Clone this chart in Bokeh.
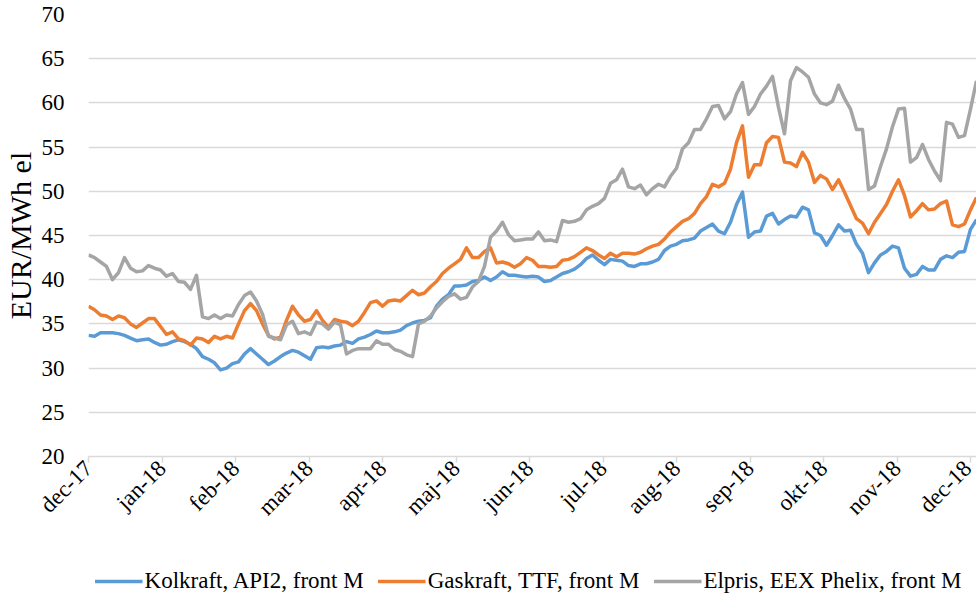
import numpy as np
from bokeh.plotting import figure
from bokeh.layouts import column
from bokeh.models import Range1d, FixedTicker, Legend, LegendItem, ColumnDataSource
from bokeh.embed import file_html
from bokeh.resources import INLINE

# month tick labels (dec-17 .. dec-18)
month_labels = ["dec-17", "jan-18", "feb-18", "mar-18", "apr-18", "maj-18", "jun-18",
                "jul-18", "aug-18", "sep-18", "okt-18", "nov-18", "dec-18"]
y_ticks = [20, 25, 30, 35, 40, 45, 50, 55, 60, 65, 70]
samples_per_year = 147  # series at ~2.5-day spacing

kolkraft = [
    33.7, 33.6, 34.0, 34.0, 34.0, 33.9, 33.7, 33.4, 33.1, 33.2, 33.3, 32.9, 32.6, 32.7, 33.0, 33.2,
    33.0, 32.7, 32.2, 31.3, 31.0, 30.6, 29.8, 30.0, 30.5, 30.7, 31.6, 32.2, 31.6, 31.0, 30.4, 30.8,
    31.3, 31.7, 32.0, 31.8, 31.4, 31.0, 32.3, 32.4, 32.3, 32.5, 32.6, 33.0, 32.8, 33.3, 33.5, 33.8,
    34.2, 34.0, 34.0, 34.1, 34.3, 34.8, 35.1, 35.3, 35.4, 35.7, 37.0, 37.8, 38.3, 39.3, 39.3, 39.4,
    39.8, 39.9, 40.3, 39.9, 40.3, 40.9, 40.5, 40.5, 40.4, 40.3, 40.4, 40.3, 39.8, 39.9, 40.3, 40.7,
    40.9, 41.2, 41.7, 42.4, 42.8, 42.2, 41.7, 42.3, 42.2, 42.1, 41.6, 41.5, 41.8, 41.8, 42.0, 42.3,
    43.3, 43.8, 44.0, 44.4, 44.5, 44.7, 45.5, 45.9, 46.3, 45.5, 45.2, 46.5, 48.5, 49.9, 44.8, 45.4,
    45.5, 47.2, 47.5, 46.3, 46.8, 47.2, 47.1, 48.2, 47.9, 45.3, 45.0, 43.9, 45.0, 46.2, 45.5, 45.6,
    44.0, 43.0, 40.8, 41.9, 42.8, 43.2, 43.8, 43.6, 41.3, 40.4, 40.6, 41.5, 41.1, 41.1, 42.3, 42.7,
    42.5, 43.1, 43.2, 45.7, 46.8,
]

gaskraft = [
    37.0, 36.6, 36.0, 35.9, 35.5, 35.9, 35.7, 35.0, 34.6, 35.1, 35.6, 35.6, 34.7, 33.8, 34.1, 33.3,
    33.1, 32.6, 33.4, 33.3, 32.9, 33.6, 33.3, 33.6, 33.4, 35.0, 36.5, 37.3, 36.5, 35.0, 33.7, 33.3,
    33.5, 35.4, 37.0, 36.0, 35.3, 35.5, 36.5, 35.4, 34.6, 35.5, 35.3, 35.2, 34.8, 35.3, 36.3, 37.4,
    37.6, 37.0, 37.6, 37.7, 37.6, 38.2, 38.8, 38.3, 38.5, 39.2, 39.8, 40.7, 41.3, 41.8, 42.3, 43.6,
    42.5, 42.5, 43.2, 43.6, 41.9, 42.0, 41.8, 41.4, 41.8, 42.5, 42.2, 41.5, 41.5, 41.4, 41.5, 42.2,
    42.3, 42.6, 43.1, 43.6, 43.3, 42.8, 42.4, 43.0, 42.6, 43.0, 43.0, 42.9, 43.1, 43.5, 43.8, 44.0,
    44.6, 45.4, 46.0, 46.6, 46.9, 47.5, 48.6, 49.4, 50.8, 50.5, 50.9, 52.5, 55.5, 57.4, 51.6, 53.0,
    53.0, 55.5, 56.2, 56.1, 53.3, 53.2, 52.8, 54.4, 53.3, 51.0, 51.8, 51.4, 50.2, 51.3, 49.9, 48.4,
    46.9, 46.4, 45.2, 46.5, 47.5, 48.5, 50.0, 51.3, 49.5, 47.1, 47.8, 48.6, 47.9, 48.0, 48.6, 48.9,
    46.2, 46.0, 46.3, 47.9, 49.3,
]

elpris = [
    42.8, 42.5, 42.0, 41.5, 40.0, 40.8, 42.5, 41.3, 40.9, 41.0, 41.6, 41.3, 41.1, 40.4, 40.7, 39.8,
    39.7, 38.9, 40.5, 35.8, 35.6, 36.0, 35.6, 36.0, 35.9, 37.2, 38.2, 38.6, 37.6, 36.1, 33.6, 33.4,
    33.2, 34.9, 35.3, 33.9, 34.1, 33.8, 35.2, 35.0, 34.4, 35.2, 34.9, 31.6, 32.0, 32.2, 32.2, 32.2,
    33.1, 32.7, 32.7, 32.1, 31.9, 31.5, 31.3, 35.0, 35.3, 35.9, 36.8, 37.5, 38.1, 38.4, 37.8, 38.0,
    39.2, 39.8, 41.5, 44.8, 45.5, 46.5, 45.1, 44.4, 44.5, 44.6, 44.6, 45.4, 44.4, 44.5, 44.3, 46.7,
    46.5, 46.6, 46.9, 47.9, 48.3, 48.6, 49.2, 50.9, 51.3, 52.5, 50.5, 50.3, 50.7, 49.6, 50.3, 50.8,
    50.5, 51.7, 52.6, 54.8, 55.5, 57.0, 57.0, 58.2, 59.6, 59.7, 58.2, 59.0, 61.0, 62.3, 58.7, 59.6,
    61.0, 61.9, 63.0, 59.5, 56.5, 62.5, 64.0, 63.5, 62.9, 61.0, 60.0, 59.8, 60.2, 62.0, 60.5, 59.3,
    57.0, 57.0, 50.2, 50.6, 52.8, 54.8, 57.3, 59.3, 59.4, 53.3, 53.8, 55.3, 53.6, 52.3, 51.2, 57.8,
    57.6, 56.1, 56.3, 59.3, 62.5,
]

series_names = ["Kolkraft, API2, front M", "Gaskraft, TTF, front M", "Elpris, EEX Phelix, front M"]
series_colors = ["#5B9BD5", "#ED7D31", "#A5A5A5"]

assert len(kolkraft) == len(gaskraft) == len(elpris)
n = len(kolkraft)
x = np.arange(n) * 12.0 / samples_per_year

FONT = "Liberation Serif"
LINE_W = 3.5

p = figure(frame_width=888, frame_height=442, output_backend="svg", toolbar_location=None,
           x_range=Range1d(0, x[-1]), y_range=Range1d(20, 70),
           min_border_left=80, min_border_right=0, min_border_top=14, min_border_bottom=112)
p.outline_line_color = None
p.background_fill_color = "white"
p.border_fill_color = "white"

for vals, col in zip([kolkraft, gaskraft, elpris], series_colors):
    src = ColumnDataSource(dict(x=x, y=vals))
    p.line("x", "y", source=src, line_color=col, line_width=LINE_W, line_join="round")

# axes
p.xaxis.ticker = FixedTicker(ticks=list(range(len(month_labels))))
p.xaxis.major_label_overrides = {i: lab for i, lab in enumerate(month_labels)}
p.xaxis.major_label_orientation = np.pi / 4
p.xaxis.axis_line_color = "#D9D9D9"
p.xaxis.axis_line_width = 1.5
p.xaxis.major_tick_line_color = "#D9D9D9"
p.xaxis.major_tick_line_width = 1.5
p.xaxis.major_tick_in = 0
p.xaxis.major_tick_out = 6
p.xaxis.minor_tick_line_color = None
p.xaxis.major_label_text_font = FONT
p.xaxis.major_label_text_font_size = "23px"
p.xaxis.major_label_text_color = "black"
p.xaxis.major_label_standoff = 2

p.yaxis.ticker = FixedTicker(ticks=y_ticks)
p.yaxis.axis_line_color = None
p.yaxis.major_tick_line_color = None
p.yaxis.minor_tick_line_color = None
p.yaxis.major_label_text_font = FONT
p.yaxis.major_label_text_font_size = "23px"
p.yaxis.major_label_text_color = "black"
p.yaxis.major_label_standoff = 18
p.yaxis.axis_label = "EUR/MWh el"
p.yaxis.axis_label_text_font = FONT
p.yaxis.axis_label_text_font_size = "30px"
p.yaxis.axis_label_text_font_style = "normal"
p.yaxis.axis_label_text_color = "black"
p.yaxis.axis_label_standoff = 2

p.xgrid.grid_line_color = None
p.ygrid.grid_line_color = "#D9D9D9"
p.ygrid.grid_line_width = 1.5

# legend strip below the chart (a separate small figure, no axes)
pl = figure(width=968, height=26, output_backend="svg", toolbar_location=None,
            x_range=Range1d(0, 1), y_range=Range1d(0, 1),
            x_axis_location=None, y_axis_location=None,
            min_border_left=0, min_border_right=0, min_border_top=0, min_border_bottom=0)
pl.outline_line_color = None
pl.grid.visible = False
# off-range stand-in lines whose style is shown in the legend
leg_renderers = [pl.line(x=[-5, -4], y=[-5, -4], line_color=col, line_width=LINE_W)
                 for col in series_colors]
legend = Legend(items=[LegendItem(label=nm, renderers=[r]) for nm, r in zip(series_names, leg_renderers)],
                orientation="horizontal", location="center")
legend.label_text_font = FONT
legend.label_text_font_size = "23px"
legend.label_text_color = "black"
legend.glyph_width = 48
legend.glyph_height = 20
legend.label_standoff = 2
legend.spacing = 14
legend.padding = 0
legend.margin = 0
legend.border_line_color = None
legend.background_fill_alpha = 0
pl.add_layout(legend, "center")

layout = column(p, pl, spacing=0)
open("out.html", "w").write(file_html(layout, INLINE))
